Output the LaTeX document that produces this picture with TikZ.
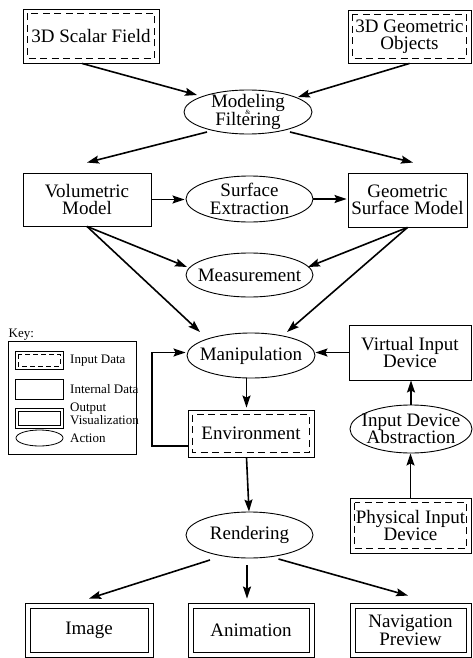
\documentclass[tikz,border=0pt]{standalone}
\usepackage{fontspec}
\setmainfont{Liberation Serif}
\usetikzlibrary{shapes.geometric,arrows.meta}

\begin{document}
\begin{tikzpicture}[x=1pt,y=-1pt,
  every node/.style={font=\fontsize{19pt}{17.5pt}\selectfont, align=center, inner sep=0pt},
  keyfont/.style={font=\fontsize{13pt}{13.5pt}\selectfont, align=left, anchor=west},
  sz/.style 2 args={minimum width=#1pt, minimum height=#2pt},
  box/.style={draw, rectangle, line width=0.9pt},
  dashpat/.style={dash pattern=on 7pt off 4.5pt},
  inbox/.style={box, path picture={\draw[line width=0.9pt, dashpat]
      ([shift={(#1,-#1)}]path picture bounding box.north west) rectangle
      ([shift={(-#1,#1)}]path picture bounding box.south east);}},
  inbox/.default=4.5pt,
  outbox/.style={box, path picture={\draw[line width=0.9pt]
      ([shift={(#1,-#1)}]path picture bounding box.north west) rectangle
      ([shift={(-#1,#1)}]path picture bounding box.south east);}},
  outbox/.default=5pt,
  act/.style={draw, ellipse, line width=0.9pt, inner xsep=-25pt, inner ysep=-14pt},
  arr/.style={line width=1.6pt, -{Stealth[length=12pt,width=8pt,inset=2pt]}},
]
\useasboundingbox (0,0) rectangle (472,658);

% data sources
\node[inbox, sz={136}{54}] (sf) at (91,36) {3D Scalar Field};
\node[inbox, sz={123}{53}] (go) at (409.5,36.5) {3D Geometric\\Objects};

% modelling stage
\node[act, sz={128}{44}] (mf) at (248,112) {Modeling\\[1pt]Filtering};
\node[font=\fontsize{6.5pt}{6.5pt}\selectfont] (amp) at (248,112) {\&};

\node[box, sz={128}{53}] (vm) at (87,199.5) {Volumetric\\Model};
\node[act, sz={127}{46}] (se) at (249.5,199) {Surface\\Extraction};
\node[box, sz={119}{54}] (gs) at (407.5,200) {Geometric\\Surface Model};
\node[act, sz={127}{44}] (me) at (249.5,275) {Measurement};

% interaction
\node[act, sz={128}{45}] (ma) at (251,355.5) {Manipulation};
\node[box, sz={122}{55}] (vi) at (410,352.5) {Virtual Input\\Device};
\node[inbox, sz={126}{47}] (en) at (251,433.5) {Environment};
\node[act, sz={122}{48}] (ia) at (411,429) {Input Device\\Abstraction};
\node[inbox, sz={121}{55}] (pi) at (410.5,525.5) {Physical Input\\Device};

% output
\node[act, sz={127}{46}] (re) at (249.5,535) {Rendering};
\node[outbox, sz={128}{54.5}] (im) at (89,630.25) {Image};
\node[outbox, sz={126}{54.5}] (an) at (251,630.25) {Animation};
\node[outbox, sz={121}{54.5}] (nv) at (410.5,630.25) {Navigation\\Preview};

% key
\node[keyfont] (keyt) at (8.5,335) {Key:};
\node[draw, line width=0.7pt, sz={128}{113}] (key) at (72,397.5) {};
\node[inbox=3pt, dashpat/.style={dash pattern=on 5pt off 3pt}, line width=0.8pt, sz={48}{18}] (ks1) at (39,360) {};
\node[box, line width=0.8pt, sz={48}{20}] (ks2) at (39,389.5) {};
\node[outbox=3pt, line width=0.8pt, sz={48}{20}] (ks3) at (39,418.5) {};
\node[act, line width=0.8pt, sz={47}{16}] (ks4) at (39.5,438) {};
\node[keyfont] (kl1) at (70,361) {Input Data};
\node[keyfont] (kl2) at (70,389.5) {Internal Data};
\node[keyfont] (kl3) at (70,414) {Output\\Visualization};
\node[keyfont] (kl4) at (70,438.5) {Action};

% connectors
\draw[arr] ([xshift=-9pt]sf.south) -- ([shift={(-51pt,17pt)}]mf.center);
\draw[arr] (go.south) -- ([shift={(50pt,15pt)}]mf.center);
\draw[arr] ([shift={(-41pt,-20pt)}]mf.center) -- ([yshift=10pt]vm.north);
\draw[arr] ([shift={(42pt,-20pt)}]mf.center) -- ([shift={(5.5pt,10pt)}]gs.north);
\draw[arr] (vm.east) -- ([xshift=-1pt]vm.east -| se.west);
\draw[arr] (se.east) -- ([xshift=-1pt]se.east -| gs.west);
\draw[arr] (vm.south) -- ([shift={(-62.5pt,8pt)}]me.center);
\draw[arr] (vm.south) -- ([shift={(-51pt,23.5pt)}]ma.center);
\draw[arr] (gs.south) -- ([shift={(58.5pt,8pt)}]me.center);
\draw[arr] (gs.south) -- ([shift={(36pt,23.5pt)}]ma.center);
\draw[arr] (vi.west) -- (vi.west -| ma.east);
\draw[arr] ([xshift=-4.5pt]ma.south) -- ([shift={(-4.5pt,2pt)}]en.north);
\coordinate (fb) at (152,352.5);
\draw[arr] ([yshift=-12.5pt]en.west) -| (fb) -- ([xshift=-1pt]fb -| ma.west);
\draw[arr] ([xshift=-4.5pt]en.south) -- ([xshift=-2pt]en.south |- re.north);
\draw[arr] (ia.north) -- (ia.north |- vi.south);
\draw[arr] (pi.north) -- (pi.north |- ia.south);
\draw[arr] ([shift={(-39.5pt,-25pt)}]re.center) -- ([yshift=4pt]im.north);
\draw[arr] ([shift={(-2.5pt,-30pt)}]re.center) -- ([shift={(-4pt,4pt)}]an.north);
\draw[arr] ([shift={(29pt,-24pt)}]re.center) -- ([shift={(-2.5pt,7pt)}]nv.north);
\end{tikzpicture}
\end{document}
